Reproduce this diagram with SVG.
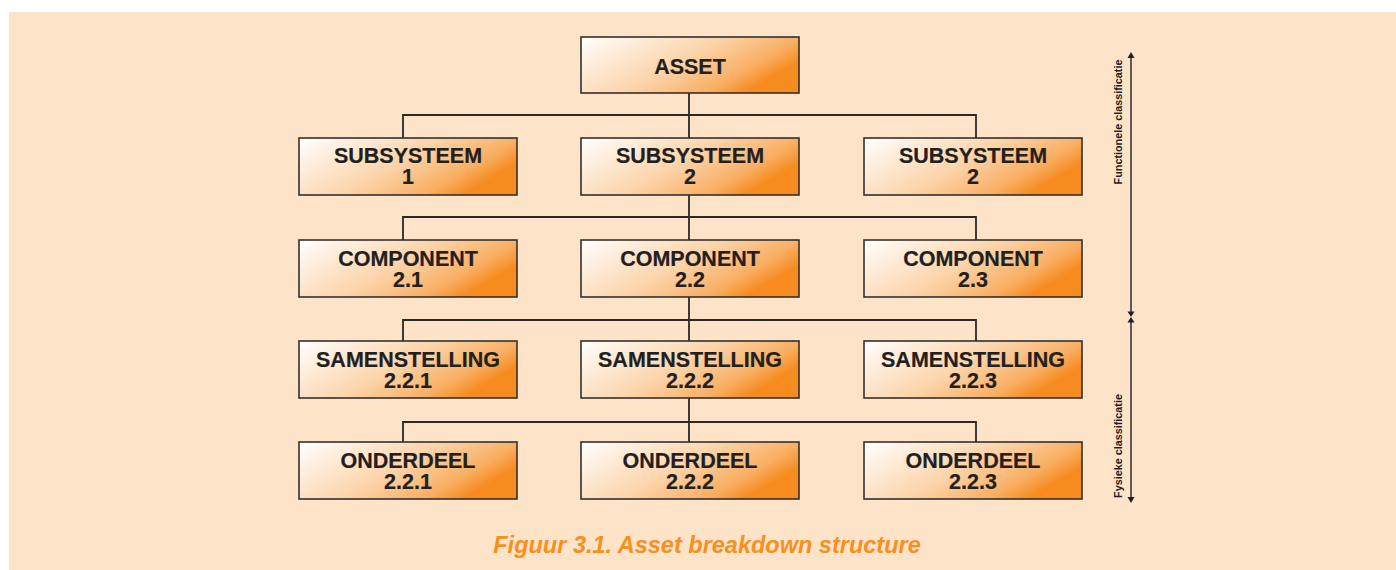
<svg xmlns="http://www.w3.org/2000/svg" width="1396" height="570" viewBox="0 0 1396 570">
<defs>
<linearGradient id="g" x1="0" y1="0" x2="1" y2="0.45">
<stop offset="0" stop-color="#FFFFFF"/>
<stop offset="0.55" stop-color="#FCD3A8"/>
<stop offset="0.85" stop-color="#F9AE62"/>
<stop offset="1" stop-color="#F68B1F"/>
</linearGradient>
</defs>
<style>
.box{fill:url(#g);stroke:#333030;stroke-width:1.6}
.t{font-family:"Liberation Sans",Arial,sans-serif;font-weight:bold;font-size:21.5px;fill:#231F20;text-anchor:middle;stroke:#231F20;stroke-width:0.2}
.c{fill:none;stroke:#2B2828;stroke-width:1.8}
.s{fill:none;stroke:#231F20;stroke-width:1.4}
.ah{fill:#231F20}
.side{font-family:"Liberation Sans",Arial,sans-serif;font-weight:bold;font-size:10.8px;fill:#231F20;text-anchor:middle}
.cap{font-family:"Liberation Sans",Arial,sans-serif;font-weight:bold;font-style:italic;font-size:23.5px;fill:#F7901E;text-anchor:middle}
</style>
<rect x="0" y="0" width="1396" height="570" fill="#FFFFFF"/>
<rect x="9" y="12" width="1387" height="558" fill="#FDE3C8"/>
<g id="connectors">
<path class="c" d="M689,93 V115 M403,138 V115 H976 V138 M689,115 V138"/>
<path class="c" d="M689,195 V217 M403,240 V217 H976 V240 M689,217 V240"/>
<path class="c" d="M689,297 V320 M403,341 V320 H976 V341 M689,320 V341"/>
<path class="c" d="M689,398 V422 M403,442 V422 H976 V442 M689,422 V442"/>
</g>
<g id="asset"><rect class="box" x="581" y="37" width="218" height="56"/><text class="t" x="690" y="74">ASSET</text></g>
<g id="sub1"><rect class="box" x="299" y="138" width="218" height="57"/><text class="t" x="408" y="163">SUBSYSTEEM<tspan x="408" dy="21">1</tspan></text></g>
<g id="sub2"><rect class="box" x="581" y="138" width="218" height="57"/><text class="t" x="690" y="163">SUBSYSTEEM<tspan x="690" dy="21">2</tspan></text></g>
<g id="sub3"><rect class="box" x="864" y="138" width="218" height="57"/><text class="t" x="973" y="163">SUBSYSTEEM<tspan x="973" dy="21">2</tspan></text></g>
<g id="comp1"><rect class="box" x="299" y="240" width="218" height="57"/><text class="t" x="408" y="266">COMPONENT<tspan x="408" dy="21">2.1</tspan></text></g>
<g id="comp2"><rect class="box" x="581" y="240" width="218" height="57"/><text class="t" x="690" y="266">COMPONENT<tspan x="690" dy="21">2.2</tspan></text></g>
<g id="comp3"><rect class="box" x="864" y="240" width="218" height="57"/><text class="t" x="973" y="266">COMPONENT<tspan x="973" dy="21">2.3</tspan></text></g>
<g id="sam1"><rect class="box" x="299" y="341" width="218" height="57"/><text class="t" x="408" y="367">SAMENSTELLING<tspan x="408" dy="21">2.2.1</tspan></text></g>
<g id="sam2"><rect class="box" x="581" y="341" width="218" height="57"/><text class="t" x="690" y="367">SAMENSTELLING<tspan x="690" dy="21">2.2.2</tspan></text></g>
<g id="sam3"><rect class="box" x="864" y="341" width="218" height="57"/><text class="t" x="973" y="367">SAMENSTELLING<tspan x="973" dy="21">2.2.3</tspan></text></g>
<g id="ond1"><rect class="box" x="299" y="442" width="218" height="57"/><text class="t" x="408" y="468">ONDERDEEL<tspan x="408" dy="21">2.2.1</tspan></text></g>
<g id="ond2"><rect class="box" x="581" y="442" width="218" height="57"/><text class="t" x="690" y="468">ONDERDEEL<tspan x="690" dy="21">2.2.2</tspan></text></g>
<g id="ond3"><rect class="box" x="864" y="442" width="218" height="57"/><text class="t" x="973" y="468">ONDERDEEL<tspan x="973" dy="21">2.2.3</tspan></text></g>
<g id="side-scale">
<line class="s" x1="1131" y1="57" x2="1131" y2="313"/>
<line class="s" x1="1131" y1="321" x2="1131" y2="498"/>
<polygon class="ah" points="1131,52 1134.5,58 1127.5,58"/>
<polygon class="ah" points="1131,317 1134.5,311.5 1127.5,311.5"/>
<polygon class="ah" points="1131,317 1134.5,322.5 1127.5,322.5"/>
<polygon class="ah" points="1131,503 1134.5,497 1127.5,497"/>
<text class="side" transform="translate(1122,122) rotate(-90)">Functionele classificatie</text>
<text class="side" transform="translate(1122,446) rotate(-90)">Fysieke classificatie</text>
</g>
<text class="cap" x="707" y="553">Figuur 3.1. Asset breakdown structure</text>
</svg>
